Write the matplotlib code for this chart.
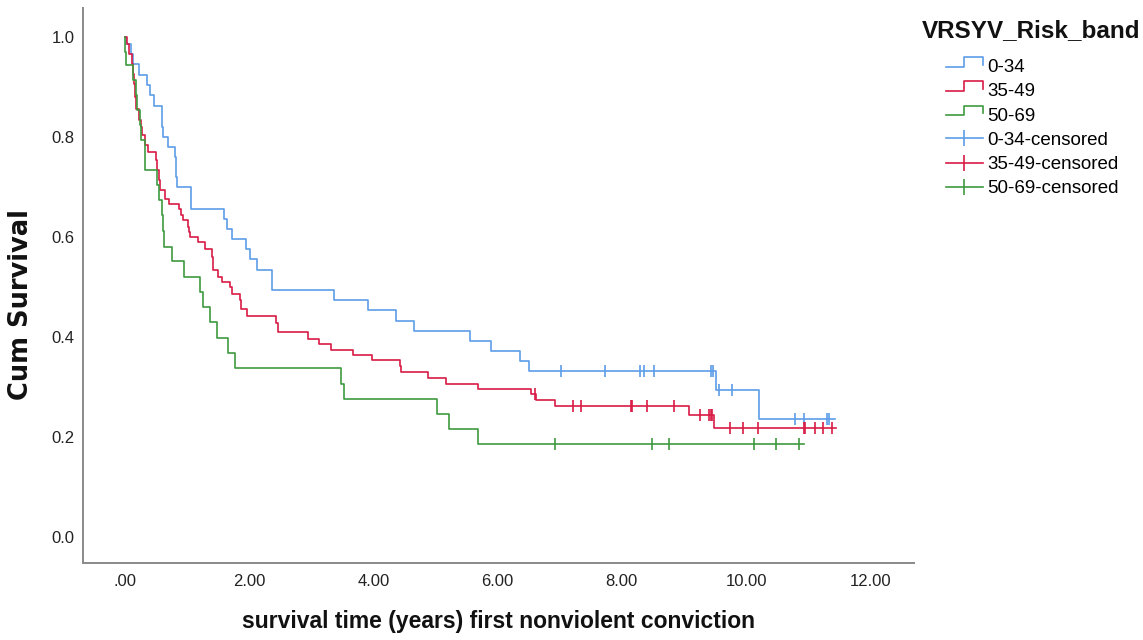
import numpy as np
import matplotlib
matplotlib.use('Agg')
import matplotlib.pyplot as plt
from matplotlib.lines import Line2D
from matplotlib.legend_handler import HandlerBase

plt.rcParams['font.family'] = ['Liberation Sans', 'DejaVu Sans']

# Kaplan-Meier steps: (time after which survival drops, survival after drop)
band_0_34_t = [0.02, 0.10, 0.13, 0.23, 0.35, 0.40, 0.47, 0.59, 0.60, 0.61, 0.70, 0.81, 0.815,
               0.82, 0.83, 1.07, 1.59, 1.64, 1.72, 1.95, 2.01, 2.12, 2.36, 2.37, 3.37, 3.92,
               4.37, 4.65, 5.56, 5.90, 6.36, 6.50, 9.51, 10.21]
band_0_34_s = [0.986, 0.967, 0.947, 0.924, 0.904, 0.884, 0.862, 0.842, 0.821, 0.80, 0.78, 0.76,
               0.74, 0.72, 0.70, 0.657, 0.637, 0.617, 0.597, 0.577, 0.557, 0.535, 0.515, 0.495,
               0.474, 0.454, 0.433, 0.413, 0.393, 0.373, 0.352, 0.332, 0.295, 0.237]
band_0_34_end = 11.43
band_0_34_cens = [7.02, 7.73, 8.29, 8.36, 8.52, 9.43, 9.47, 9.57, 9.77, 10.79, 10.94, 11.30, 11.34]

band_35_49_t = [0.03, 0.07, 0.11, 0.13, 0.15, 0.16, 0.18, 0.23, 0.25, 0.27, 0.32, 0.375, 0.50,
                0.52, 0.55, 0.57, 0.64, 0.71, 0.875, 0.91, 0.94, 1.02, 1.03, 1.04, 1.18, 1.29,
                1.40, 1.41, 1.42, 1.50, 1.57, 1.69, 1.72, 1.85, 1.87, 1.96, 2.43, 2.46, 2.95,
                3.13, 3.31, 3.67, 3.97, 4.43, 4.44, 4.88, 5.17, 5.69, 6.53, 6.62, 6.92, 9.09, 9.48]
band_35_49_s = [0.987, 0.967, 0.947, 0.927, 0.907, 0.88, 0.857, 0.834, 0.82, 0.804, 0.784, 0.771,
                0.754, 0.734, 0.714, 0.694, 0.677, 0.667, 0.657, 0.644, 0.634, 0.621, 0.611,
                0.601, 0.591, 0.577, 0.561, 0.548, 0.534, 0.521, 0.511, 0.501, 0.487, 0.474,
                0.457, 0.442, 0.429, 0.41, 0.397, 0.387, 0.375, 0.365, 0.354, 0.342, 0.331,
                0.319, 0.307, 0.297, 0.286, 0.275, 0.262, 0.244, 0.219]
band_35_49_end = 11.45
band_35_49_cens = [6.60, 7.22, 7.35, 8.15, 8.17, 8.40, 8.84, 9.26, 9.41, 9.44, 9.46, 9.74, 9.95,
                   10.20, 10.93, 10.95, 11.11, 11.24, 11.38]

band_50_69_t = [0.005, 0.01, 0.13, 0.18, 0.19, 0.24, 0.26, 0.32, 0.33, 0.51, 0.55, 0.59, 0.62,
                0.63, 0.75, 0.95, 1.20, 1.26, 1.37, 1.48, 1.66, 1.77, 3.48, 3.52, 5.03, 5.22, 5.69]
band_50_69_s = [0.97, 0.945, 0.914, 0.884, 0.854, 0.824, 0.794, 0.764, 0.734, 0.704, 0.674, 0.644,
                0.612, 0.581, 0.553, 0.521, 0.491, 0.461, 0.431, 0.399, 0.369, 0.339, 0.307,
                0.277, 0.247, 0.216, 0.187]
band_50_69_end = 10.93
band_50_69_cens = [6.93, 8.48, 8.76, 10.13, 10.48, 10.86]

band_labels = ['0-34', '35-49', '50-69']
band_colors = ['#5e9de8', '#d81b45', '#3e9a3e']

x_ticks = [0, 2, 4, 6, 8, 10, 12]
x_tick_labels = ['.00', '2.00', '4.00', '6.00', '8.00', '10.00', '12.00']
y_ticks = [0.0, 0.2, 0.4, 0.6, 0.8, 1.0]
y_tick_labels = ['0.0', '0.2', '0.4', '0.6', '0.8', '1.0']


class StepHandler(HandlerBase):
    """Legend glyph drawn as a small step, like SPSS survival plots"""
    def create_artists(self, legend, orig_handle, xdescent, ydescent, width, height, fontsize, trans):
        x0 = -xdescent
        y0 = -ydescent
        xs = [x0, x0 + 0.49 * width, x0 + 0.49 * width, x0 + width, x0 + width]
        ys = [y0 + 0.4 * height, y0 + 0.4 * height, y0 + 1.15 * height, y0 + 1.15 * height,
              y0 + 0.55 * height]
        line = Line2D(xs, ys, color=orig_handle.get_color(), lw=1.2)
        line.set_transform(trans)
        return [line]


fig = plt.figure(figsize=(11.43, 6.4), dpi=100)
ax = fig.add_axes([83 / 1143, 1 - 563 / 640, (914 - 83) / 1143, (563 - 8) / 640])

groups = [
    (band_0_34_t, band_0_34_s, band_0_34_end, band_0_34_cens),
    (band_35_49_t, band_35_49_s, band_35_49_end, band_35_49_cens),
    (band_50_69_t, band_50_69_s, band_50_69_end, band_50_69_cens),
]

step_handles = []
cens_handles = []
for (t, s, end, cens), label, color in zip(groups, band_labels, band_colors):
    tt = np.array([0.0] + t + [end])
    ss = np.array([1.0] + s + [s[-1]])
    line, = ax.step(tt, ss, where='post', color=color, lw=1.2)
    # survival at each censor time, read from the step function
    idx = np.searchsorted(tt, cens, side='right') - 1
    ax.plot(cens, ss[idx], linestyle='none', marker='|', markersize=8,
            markeredgewidth=1.2, color=color)
    step_handles.append(Line2D([], [], color=color, lw=1.2, label=label))
    cens_handles.append(Line2D([], [], color=color, lw=1.2, marker='|', markersize=12,
                               markeredgewidth=1.2, label=label + '-censored'))

ax.set_xlim(-0.676, 12.705)
ax.set_ylim(-0.052, 1.058)
ax.set_xticks(x_ticks)
ax.set_xticklabels(x_tick_labels)
ax.set_yticks(y_ticks)
ax.set_yticklabels(y_tick_labels)
ax.tick_params(length=0, labelsize=12, colors='#222222')
ax.tick_params(axis='x', pad=8)
ax.tick_params(axis='y', pad=6)

for side in ['top', 'right']:
    ax.spines[side].set_visible(False)
for side in ['left', 'bottom']:
    ax.spines[side].set_color('#8a8a8a')
    ax.spines[side].set_linewidth(1.4)

ax.set_xlabel('survival time (years) first nonviolent conviction', fontsize=16.5,
              fontweight='bold', color='#111111', va='center', ha='center')
ax.set_ylabel('Cum Survival', fontsize=18.5, fontweight='bold', color='#111111',
              va='center', ha='center', family=['DejaVu Sans'])
ax.xaxis.set_label_coords(0.5, -0.106)
ax.yaxis.set_label_coords(-0.0746, 0.465)

fig.text(922 / 1143, 1 - 31 / 640, 'VRSYV_Risk_band', fontsize=17.5, fontweight='bold',
         ha='left', va='center', color='#111111')

handler_map = {h: StepHandler() for h in step_handles}
fig.legend(step_handles + cens_handles,
           [h.get_label() for h in step_handles + cens_handles],
           handler_map=handler_map,
           loc='upper left', bbox_to_anchor=(946 / 1143, 1 - 59 / 640),
           frameon=False, fontsize=13.5, handlelength=1.95, handletextpad=0.25,
           labelspacing=0.38, borderpad=0, borderaxespad=0, numpoints=1)

fig.savefig('out.png', dpi=100)
